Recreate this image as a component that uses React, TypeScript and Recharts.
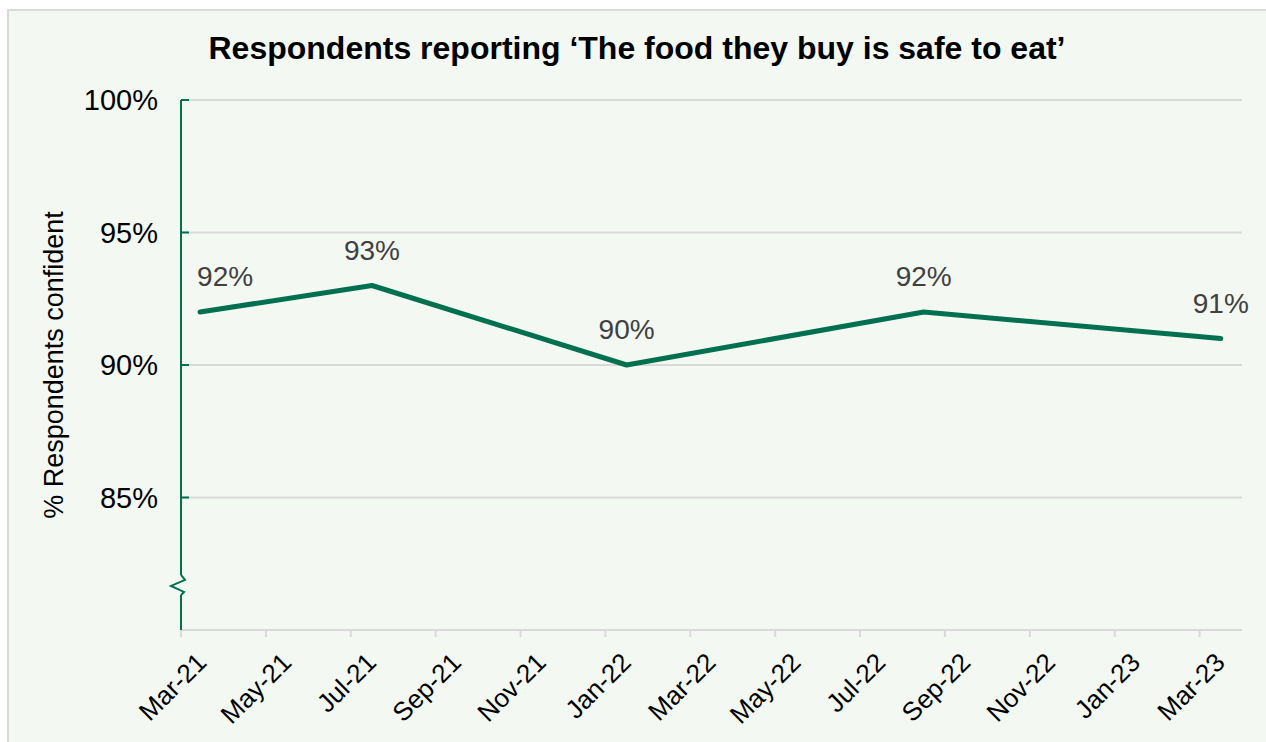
import React from 'react';
import { LineChart, Line, XAxis, YAxis, CartesianGrid, LabelList, ReferenceDot } from 'recharts';

// Months elapsed since Mar-21 (survey wave dates)
const waveMonths = [0.45, 4.5, 10.5, 17.5, 24.5];
const confidentPct = [92, 93, 90, 92, 91];
const xTickValues = [0, 2, 4, 6, 8, 10, 12, 14, 16, 18, 20, 22, 24];
const xTickLabels = ['Mar-21', 'May-21', 'Jul-21', 'Sep-21', 'Nov-21', 'Jan-22', 'Mar-22', 'May-22', 'Jul-22', 'Sep-22', 'Nov-22', 'Jan-23', 'Mar-23'];
const yTickValues = [85, 90, 95, 100];
const yDomain: [number, number] = [80, 100];
const xDomain: [number, number] = [0, 25];
const breakValue = 81.7;

const title = 'Respondents reporting \u2018The food they buy is safe to eat\u2019';
const yLabel = '% Respondents confident';

const data = waveMonths.map((m, i) => ({ m, v: confidentPct[i] }));

const GREEN = '#00704F';
const GRID = '#D9D9D9';
const BG = '#F4F8F3';
const FONT = '"Liberation Sans", Arial, sans-serif';

const XTick = (props: any) => {
  const { x, y, payload } = props;
  const idx = xTickValues.indexOf(payload.value);
  const label = idx >= 0 ? xTickLabels[idx] : '';
  const px = x + 27;
  const py = y + 27;
  return (
    <text x={px} y={py} transform={`rotate(-45, ${px}, ${py})`} textAnchor="end" fontSize={26} fill="#000" fontFamily={FONT}>
      {label}
    </text>
  );
};

const YTick = (props: any) => {
  const { x, y, payload } = props;
  return (
    <g>
      <line x1={x} y1={y} x2={x + 8} y2={y} stroke={GREEN} strokeWidth={2} />
      <text x={x - 23} y={y} dy="0.36em" textAnchor="end" fontSize={29} fill="#000" fontFamily={FONT}>
        {`${payload.value}%`}
      </text>
    </g>
  );
};

const PointLabel = (props: any) => {
  const { x, y, value, index } = props;
  const dx = index === 0 ? 25 : 0;
  return (
    <text x={x + dx} y={y - 26} textAnchor="middle" fontSize={28} fill="#404040" fontFamily={FONT}>
      {`${value}%`}
    </text>
  );
};

const BreakMark = (props: any) => {
  const { cx, cy } = props;
  return (
    <g>
      <rect x={cx - 3} y={cy - 10} width={6} height={20} fill={BG} />
      <path d={`M ${cx} ${cy - 10} L ${cx + 4} ${cy - 5} L ${cx - 10} ${cy + 1} L ${cx + 3} ${cy + 7} L ${cx} ${cy + 10}`} fill="none" stroke={GREEN} strokeWidth={2} />
    </g>
  );
};

export default function App() {
  return (
    <div style={{ position: 'fixed', left: 0, top: 0, width: 1266, height: 742, background: '#fff', overflow: 'hidden' }}>
      <div style={{ position: 'absolute', left: 7, top: 9, right: 0, bottom: 0, background: BG, borderTop: `2px solid ${GRID}`, borderLeft: `2px solid ${GRID}` }} />
      <div style={{ position: 'absolute', left: 0, top: 0 }}>
        <LineChart width={1266} height={742} data={data} margin={{ top: 100, right: 24, bottom: 22, left: 101 }}>
          <CartesianGrid horizontal vertical={false} stroke={GRID} strokeWidth={2} />
          <XAxis
            type="number"
            dataKey="m"
            domain={xDomain}
            ticks={xTickValues}
            interval={0}
            height={90}
            stroke={GRID}
            strokeWidth={2}
            tickLine={{ stroke: GRID, strokeWidth: 2 }}
            tickSize={7}
            tickMargin={0}
            tick={<XTick />}
            allowDataOverflow
          />
          <YAxis
            type="number"
            domain={yDomain}
            ticks={yTickValues}
            interval={0}
            width={80}
            axisLine={{ stroke: GREEN, strokeWidth: 2 }}
            tickLine={false}
            tickSize={0}
            tickMargin={0}
            tick={<YTick />}
            allowDataOverflow
          />
          <ReferenceDot x={0} y={breakValue} ifOverflow="visible" shape={<BreakMark />} />
          <Line type="linear" dataKey="v" stroke={GREEN} strokeWidth={5} strokeLinecap="round" strokeLinejoin="round" dot={false} isAnimationActive={false}>
            <LabelList dataKey="v" content={<PointLabel />} />
          </Line>
        </LineChart>
      </div>
      <svg width={1266} height={742} style={{ position: 'absolute', left: 0, top: 0, pointerEvents: 'none' }}>
        <text x={637} y={59} textAnchor="middle" fontSize={32} fontWeight="bold" fill="#000" fontFamily={FONT}>{title}</text>
        <text x={63} y={365} transform="rotate(-90, 63, 365)" textAnchor="middle" fontSize={27} fill="#000" fontFamily={FONT}>{yLabel}</text>
      </svg>
    </div>
  );
}
